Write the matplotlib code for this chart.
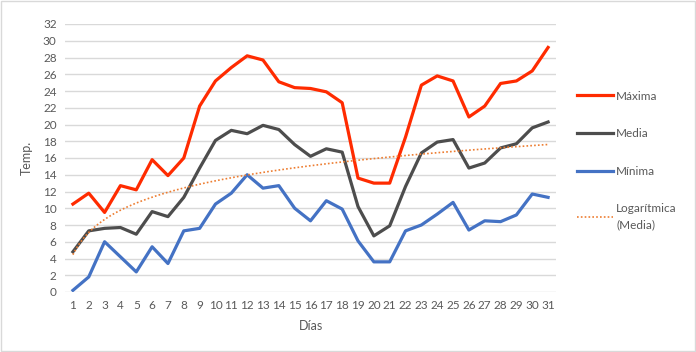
import numpy as np
import matplotlib
matplotlib.use("Agg")
import matplotlib.pyplot as plt
from matplotlib.lines import Line2D
from matplotlib.patches import Rectangle

dias = list(range(1, 32))
maxima = [10.5, 11.8, 9.5, 12.7, 12.2, 15.8, 13.9, 16.0, 22.2, 25.2, 26.8, 28.2, 27.7, 25.1, 24.4,
          24.3, 23.9, 22.6, 13.6, 13.0, 13.0, 18.5, 24.7, 25.8, 25.2, 20.9, 22.2, 24.9, 25.2, 26.4, 29.2]
media = [4.8, 7.3, 7.6, 7.7, 6.9, 9.6, 9.0, 11.3, 14.8, 18.1, 19.3, 18.9, 19.9, 19.4, 17.6,
         16.2, 17.1, 16.7, 10.2, 6.7, 7.9, 12.6, 16.6, 17.9, 18.2, 14.8, 15.4, 17.2, 17.7, 19.6, 20.3]
minima = [0.2, 1.8, 6.0, 4.2, 2.4, 5.4, 3.4, 7.3, 7.6, 10.5, 11.8, 14.0, 12.4, 12.7, 10.0,
          8.5, 10.9, 9.9, 6.1, 3.6, 3.6, 7.3, 8.0, 9.3, 10.7, 7.4, 8.5, 8.4, 9.2, 11.7, 11.3]
yticks = list(range(0, 33, 2))

plt.rcParams['font.family'] = ['Lato', 'DejaVu Sans']
txt = '#595959'

fig = plt.figure(figsize=(6.96, 3.52), dpi=100)
ax = fig.add_axes([65/696, 1-292/352, (556-65)/696, (292-24)/352])

x = np.array(dias, dtype=float)
a, b = np.polyfit(np.log(x), np.array(media), 1)
xt = np.linspace(1, 31, 300)
trend = a*np.log(xt) + b

ax.plot(dias, maxima, color='#FF2B00', lw=2.3, solid_joinstyle='round', zorder=3)
ax.plot(dias, media, color='#4D4D4D', lw=2.3, solid_joinstyle='round', zorder=3)
ax.plot(dias, minima, color='#4472C4', lw=2.3, solid_joinstyle='round', zorder=3)
ax.plot(xt, trend, color='#ED7D31', lw=1.2, ls=(0, (1, 1.3)), zorder=4)

ax.set_xlim(0.5, 31.5)
ax.set_ylim(0, 32)
ax.set_yticks(yticks)
ax.set_xticks(dias)
ax.grid(axis='y', color='#D9D9D9', lw=1)
ax.set_axisbelow(True)
for s in ax.spines.values():
    s.set_visible(False)
ax.tick_params(length=0, labelsize=8.5, colors=txt, pad=6)
ax.set_xlabel('Días', fontsize=9, color=txt, labelpad=6)
ax.set_ylabel('Temp.', fontsize=9, color=txt, labelpad=7)

handles = [Line2D([], [], color='#FF2B00', lw=2.3),
           Line2D([], [], color='#4D4D4D', lw=2.3),
           Line2D([], [], color='#4472C4', lw=2.3),
           Line2D([], [], color='#ED7D31', lw=1.2, ls=(0, (1, 1.3)))]
labels = ['Máxima', 'Media', 'Mínima', 'Logarítmica\n(Media)']
leg = fig.legend(handles, labels, loc='upper left', bbox_to_anchor=(566/696, 1-80/352),
                 frameon=False, fontsize=8.5, labelcolor=txt, labelspacing=2.25,
                 handlelength=3.1, handletextpad=0.25)
for t in leg.get_texts():
    t.set_linespacing(1.5)

fig.patches.append(Rectangle((0.001, 0.002), 0.997, 0.995, transform=fig.transFigure,
                             fill=False, edgecolor='#D9D9D9', lw=1))
fig.savefig('out.png', dpi=100, facecolor='white')
